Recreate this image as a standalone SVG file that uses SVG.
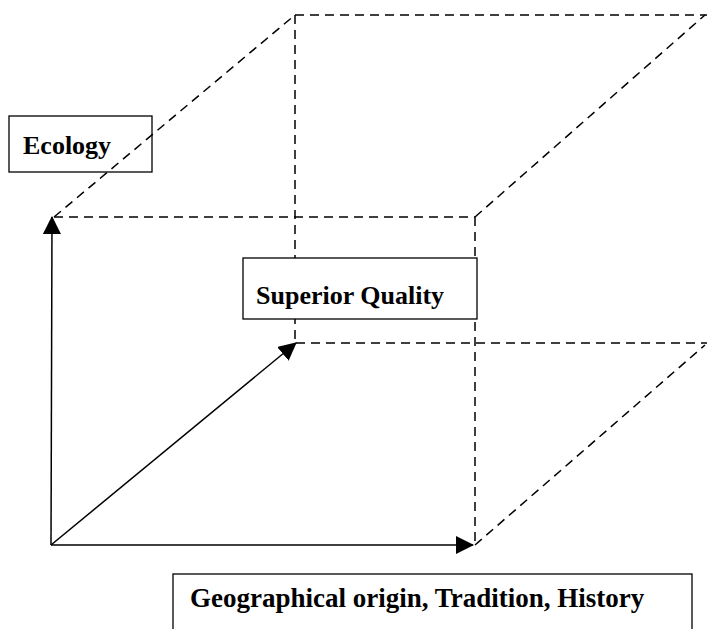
<svg xmlns="http://www.w3.org/2000/svg" width="707" height="629" viewBox="0 0 707 629">
<style>
.dash{fill:none;stroke:#000;stroke-width:1.5;stroke-dasharray:9 6}
.axis{fill:none;stroke:#000;stroke-width:1.5}
.box{stroke:#000;stroke-width:1.3}
.lbl{font-family:"Liberation Serif","Times New Roman",serif;font-weight:bold;font-size:26px;fill:#000}
</style>
<defs>
<marker id="arr" markerWidth="18" markerHeight="18" refX="17" refY="9" orient="auto" markerUnits="userSpaceOnUse">
<path d="M0,0 L18,9 L0,18 Z" fill="#000"/>
</marker>
</defs>
<g id="connectors">
<line class="dash" x1="54" y1="217" x2="475" y2="217"/>
<line class="dash" x1="475" y1="217" x2="475" y2="545"/>
<line class="dash" x1="295" y1="15" x2="707" y2="15"/>
<line class="dash" x1="295" y1="15" x2="295" y2="343"/>
<line class="dash" x1="296" y1="343" x2="707" y2="343"/>
<line class="dash" x1="54" y1="217" x2="295" y2="15"/>
<line class="dash" x1="475" y1="217" x2="705" y2="15"/>
<line class="dash" x1="475" y1="545" x2="705" y2="345"/>
<line class="axis" x1="51" y1="545" x2="52" y2="217" marker-end="url(#arr)"/>
<line class="axis" x1="51" y1="545" x2="473" y2="545" marker-end="url(#arr)"/>
<line class="axis" x1="51" y1="545" x2="296" y2="343" marker-end="url(#arr)"/>
</g>
<g id="ecology">
<rect class="box" x="9" y="116" width="143" height="56" fill="none"/>
<text class="lbl" x="23" y="154">Ecology</text>
</g>
<g id="superior-quality">
<rect class="box" x="243" y="258" width="234" height="61" fill="#fff"/>
<text class="lbl" x="256" y="304">Superior Quality</text>
</g>
<g id="geographical-origin">
<rect class="box" x="173" y="574" width="519" height="70" fill="#fff"/>
<text class="lbl" x="190" y="607" style="font-size:27px">Geographical origin, Tradition, History</text>
</g>
</svg>
